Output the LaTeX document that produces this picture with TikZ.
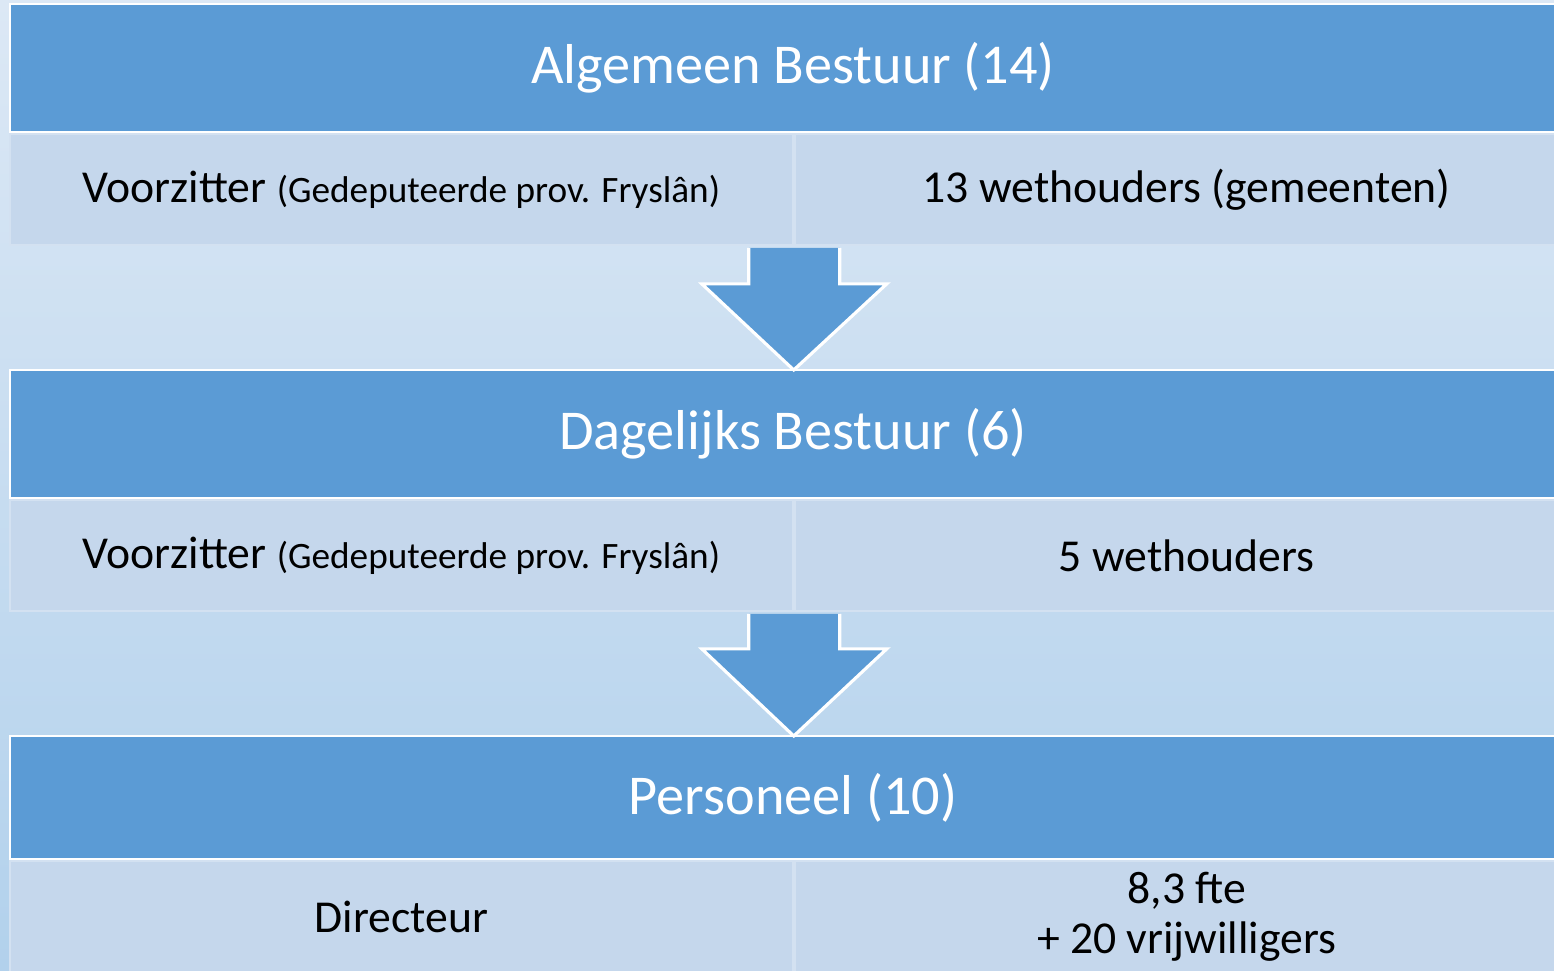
\documentclass[tikz,border=0pt]{standalone}
\usepackage{fontspec}
\setmainfont{Carlito}
\usetikzlibrary{positioning,calc}

\definecolor{hdrblue}{RGB}{91,155,213}
\definecolor{cellblue}{RGB}{197,215,236}
\definecolor{bgtop}{RGB}{220,232,245}
\definecolor{bgbot}{RGB}{178,209,236}

\tikzset{
  header/.style={draw=white, line width=0.6pt, fill=hdrblue, text=white,
    minimum width=15.66cm, minimum height=1.28cm, inner sep=0pt, anchor=north west,
    font=\fontsize{16}{19}\selectfont},
  cell/.style={draw=white!25!cellblue, line width=0.5pt, fill=cellblue, text=black,
    minimum height=1.11cm, inner sep=0pt, align=center,
    font=\fontsize{13}{14.2}\selectfont},
  leftcell/.style={cell, minimum width=7.83cm, anchor=north west},
  rightcell/.style={cell, minimum width=7.84cm, anchor=north west},
  blockarrow/.style={draw=white, line width=0.9pt, fill=hdrblue, line join=miter},
}
\newcommand{\parenfont}{\fontsize{10.6}{12}\selectfont}

\begin{document}
\begin{tikzpicture}
  \shade[top color=bgtop, bottom color=bgbot] (0,0) rectangle (15.54,9.70);
  \useasboundingbox (0,0) rectangle (15.54,9.70);

  % algemeen bestuur
  \node[header] (ab) at (0.09,9.67) {Algemeen Bestuur (14)};
  \node[leftcell, anchor=north west] (abl) at (ab.south west) {Voorzitter {\parenfont(Gedeputeerde prov. Fryslân)}};
  \node[rightcell, anchor=north west] (abr) at (abl.north east) {13 wethouders (gemeenten)};

  % dagelijks bestuur
  \node[header] (db) at (0.09,6.01) {Dagelijks Bestuur (6)};
  \node[leftcell, anchor=north west] (dbl) at (db.south west) {Voorzitter {\parenfont(Gedeputeerde prov. Fryslân)}};
  \node[rightcell, anchor=north west] (dbr) at (dbl.north east) {5 wethouders};

  % personeel
  \node[header, minimum height=1.23cm] (pers) at (0.09,2.35) {Personeel (10)};
  \node[leftcell, minimum height=1.12cm, anchor=north west] (persl) at (pers.south west) {Directeur};
  \node[rightcell, minimum height=1.12cm, anchor=north west] (persr) at (persl.north east) {8,3 fte\\+ 20 vrijwilligers};

  % arrows
  \coordinate (a1) at ($(abl.south east)+(0,-0.02)$);
  \draw[blockarrow] (a1) ++(-0.45,0) -- ++(0,-0.36) -- ++(-0.47,0) -- ($(db.north west)!(a1)!(db.north east)+(0,-0.01)$)
    -- ($(a1)+(0.93,-0.36)$) -- ($(a1)+(0.46,-0.36)$) -- ($(a1)+(0.46,0)$);
  \coordinate (a2) at ($(dbl.south east)+(0,-0.02)$);
  \draw[blockarrow] (a2) ++(-0.45,0) -- ++(0,-0.35) -- ++(-0.47,0) -- ($(pers.north west)!(a2)!(pers.north east)+(0,-0.01)$)
    -- ($(a2)+(0.93,-0.35)$) -- ($(a2)+(0.46,-0.35)$) -- ($(a2)+(0.46,0)$);
\end{tikzpicture}
\end{document}
